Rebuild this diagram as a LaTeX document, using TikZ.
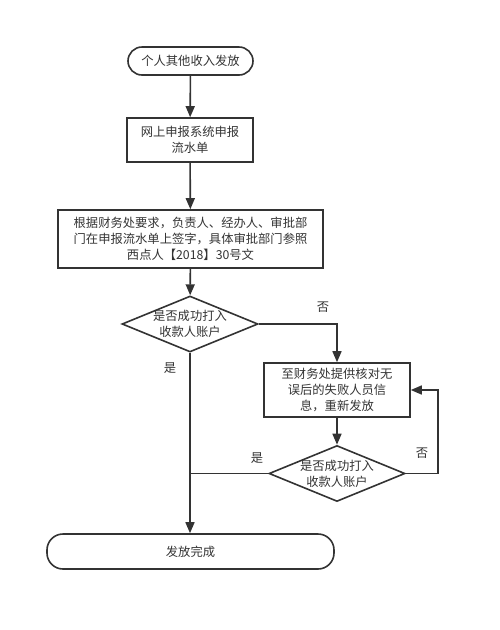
\documentclass[tikz,border=0pt]{standalone}
\usepackage{fontspec}
\setmainfont{Noto Sans CJK SC}
\usetikzlibrary{shapes.geometric,arrows.meta}
\definecolor{ln}{HTML}{333333}
\definecolor{tx}{HTML}{333333}
\begin{document}
\begin{tikzpicture}[x=1pt,y=-1pt,
  every node/.style={text=tx,font=\fontsize{12.3}{16}\selectfont},
  box/.style={draw=ln,line width=1.6pt,rectangle,inner sep=0pt,align=center},
  term/.style={box,rounded corners=14pt},
  dia/.style={draw=ln,line width=1.6pt,diamond,inner sep=0pt,minimum width=136pt,minimum height=56pt,aspect=2.43},
  arr/.style={draw=ln,line width=1.6pt,-{Triangle[length=11pt,width=9pt]}},
  ln/.style={draw=ln,line width=1.6pt},
  lbl/.style={inner sep=0pt}]
\useasboundingbox (0,0) rectangle (499,630);
\node[term,minimum width=125pt,minimum height=28pt] (s) at (190.5,61) {个人其他收入发放};
\node[box,minimum width=126pt,minimum height=44pt] (b2) at (190,140) {网上申报系统申报\\流水单};
\node[box,minimum width=265pt,minimum height=58pt] (b3) at (190.5,239) {根据财务处要求，负责人、经办人、审批部\\门在申报流水单上签字，具体审批部门参照\\西点人【2018】30号文};
\node[dia,label={[align=center]center:是否成功打入\\收款人账户}] (d1) at (190,324) {};
\node[box,minimum width=146pt,minimum height=54pt] (b4) at (337,390) {至财务处提供核对无\\误后的失败人员信\\息，重新发放};
\node[dia,label={[align=center]center:是否成功打入\\收款人账户}] (d2) at (337,473.5) {};
\node[term,rounded corners=16pt,minimum width=287pt,minimum height=35pt] (e) at (190.5,551.5) {发放完成};
\coordinate (lp) at (438,473.5);
\draw[arr] (s) -- (b2);
\draw[arr] (b2) -- (b3);
\draw[arr] (b3) -- (d1);
\draw[arr] (d1.south) -- (d1.south |- e.north);
\draw[arr] (d1.east) -| (b4.north);
\draw[arr] (b4) -- (d2);
\draw[arr] (d2.east) -- (lp) |- (b4.east);
\draw[ln] (d2.west) -- (d2.west -| d1.south);
\node[lbl] (n1) at (323,307) {否};
\node[lbl] (y1) at (170,368) {是};
\node[lbl] (y2) at (257,458) {是};
\node[lbl] (n2) at (422,453) {否};
\end{tikzpicture}
\end{document}
